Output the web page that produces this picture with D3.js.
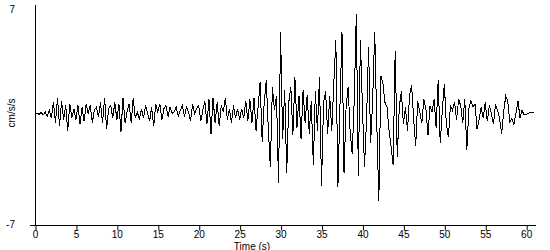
<!DOCTYPE html>
<html>
<head>
<meta charset="utf-8">
<script src="https://cdn.jsdelivr.net/npm/d3@7"></script>
<style>
  body { margin: 0; background: #fff; }
  text { font-family: "Liberation Sans", Arial, sans-serif; font-size: 10px; fill: #000; }
</style>
</head>
<body>
<svg width="550" height="250"></svg>
<script>
// sample step of the record, seconds
const dt = 0.25

// acceleration in cm/s/s, one value per 0.25 s (one row per second)
const accel = [
    0.0, 0.1, 0.05, 0.15,
    0.0, 0.2, -0.1, 0.3,
    -0.2, 0.8, -0.5, 1.1,
    -0.7, 0.9, -0.3, 0.6,
    -1.0, 0.7, -0.2, 0.4,
    -0.3, 0.6, -0.6, 0.5,
    -0.4, 0.7, 0.1, 0.6,
    -0.5, 0.3, 0.5, -0.1,
    0.8, -0.5, 1.1, -0.9,
    0.4, 0.6, -0.2, 0.8,
    -0.3, 0.7, -1.1, 1.1,
    -0.5, 0.2, 0.7, -0.5,
    1.1, -0.2, 0.2, -0.3,
    0.4, -0.2, 0.6, 0.1,
    -0.4, 0.5, -0.7, 0.7,
    0.2, 0.7, -0.3, 0.4,
    0.6, -0.1, 0.5, 0.1,
    0.2, 0.5, -0.1, 0.3,
    0.6, -0.1, 0.5, 0.2,
    -0.4, 0.7, 0.1, 0.4,
    0.6, -0.4, 0.3, 0.9,
    -0.6, 1.0, -1.2, 1.1,
    -0.5, 0.8, -0.7, 0.6,
    0.2, 1.1, -0.3, 0.4,
    -0.5, 0.6, -0.2, 0.4,
    -0.3, 0.4, -0.2, 0.9,
    -0.4, 1.0, -0.5, 1.1,
    -1.0, 0.5, 2.1, -1.7,
    0.8, 2.2, -0.9, -3.3,
    1.8, 0.3, 1.2, -4.3,
    5.3, -1.5, 1.6, -3.7,
    0.8, 1.8, -1.3, 2.4,
    -0.8, 1.2, -1.5, 1.6,
    -0.5, 1.3, -1.2, 0.9,
    -3.2, 1.5, -1.0, 2.4,
    -4.5, 0.8, 1.5, -1.2,
    1.2, -1.0, 2.0, 4.8,
    -4.6, 0.5, 5.3, -3.7,
    0.5, 1.8, -1.1, -2.5,
    1.0, 6.4, -3.9, 4.8,
    0.5, -3.3, -0.3, 4.3,
    -1.8, 1.0, 5.3, -0.5,
    -5.5, 2.5, 2.0, 0.8,
    0.5, -1.0, -2.0, -3.2,
    4.1, -2.7, 0.5, 1.5,
    -0.6, 0.5, -1.0, 1.2,
    1.9, -0.2, -2.0, 0.9,
    0.2, -0.5, 1.0, 0.4,
    -1.3, 0.6, 0.2, 1.0,
    -0.8, 2.2, -1.8, 0.3,
    2.0, -0.6, -1.4, 0.6,
    0.3, 0.8, -0.3, 1.0,
    0.6, -0.5, 1.0, -2.2,
    0.4, 0.9, 0.5, 0.7,
    -0.9, -0.3, 0.5, -0.2,
    0.8, -0.4, 0.6, 0.1,
    -0.6, 0.7, 0.3, -0.2,
    -1.2, 0.2, 1.2, 0.9,
    -0.5, -0.2, -0.6, 0.1,
    0.9, -0.2, 0.3, 0.0,
    0.05, 0.1, 0.15, 0.15,
    0.15
]

const xTicks = [0, 5, 10, 15, 20, 25, 30, 35, 40, 45, 50, 55, 60]
const yLimits = [-7, 7]

const svg = d3.select('svg')

const x = d3.scaleLinear().domain([0, 61.2]).range([35, 536])
const y = d3.scaleLinear().domain(yLimits).range([225, 5])

// the trace
const line = d3.line()
    .x((d, i) => x(i * dt))
    .y(d => y(d))

svg.append('path')
    .datum(accel)
    .attr('d', line)
    .style('fill', 'none')
    .style('stroke', '#000')
    .style('stroke-width', 1)
    .style('shape-rendering', 'crispEdges')

// x axis
const xAxis = svg.append('g')
    .attr('transform', 'translate(0,225.5)')
    .call(d3.axisBottom(x).tickValues(xTicks).tickSize(5).tickSizeOuter(0).tickPadding(0))
xAxis.select('.domain').remove()
xAxis.selectAll('line').attr('stroke', '#000').attr('transform', 'translate(0.5,0)')
xAxis.selectAll('text').attr('font-family', null).attr('font-size', null)

svg.append('line')
    .attr('x1', 30).attr('x2', 536)
    .attr('y1', 225.5).attr('y2', 225.5)
    .style('stroke', '#000')

// y axis
svg.append('line')
    .attr('x1', 35.5).attr('x2', 35.5)
    .attr('y1', 5).attr('y2', 225)
    .style('stroke', '#000')

svg.selectAll('.ylab')
    .data(yLimits)
    .enter().append('text')
    .attr('class', 'ylab')
    .attr('x', 15)
    .attr('y', d => y(d) + (d > 0 ? 8 : 3))
    .attr('text-anchor', 'end')
    .text(d => d)

svg.append('text')
    .attr('transform', 'translate(15,113) rotate(-90)')
    .attr('text-anchor', 'middle')
    .text('cm/s/s')

svg.append('text')
    .attr('x', 252)
    .attr('y', 249.5)
    .attr('text-anchor', 'middle')
    .text('Time (s)')
</script>
</body>
</html>
